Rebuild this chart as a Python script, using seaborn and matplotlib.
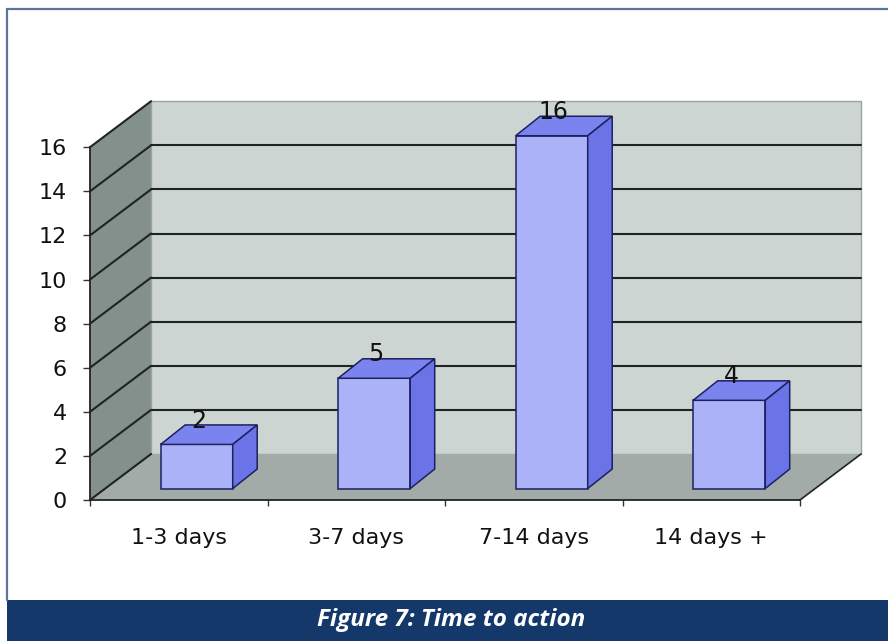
import numpy as np
import pandas as pd
import seaborn as sns
import matplotlib
matplotlib.use("Agg")
import matplotlib.pyplot as plt
from matplotlib.patches import Polygon, Rectangle
from matplotlib.lines import Line2D

# ---- data ----
categories = ["1-3 days", "3-7 days", "7-14 days", "14 days +"]
values = [2, 5, 16, 4]
y_ticks = [0, 2, 4, 6, 8, 10, 12, 14, 16]
caption = "Figure 7: Time to action"

# ---- style ----
sns.set_theme(style="white")
plt.rcParams['font.family'] = ['DejaVu Sans']

W, H = 888, 641
SIDE_WALL = '#84908b'
BACK_WALL = '#cdd5d3'
FLOOR = '#a2aba8'
FRONT = '#abb2f8'
TOPC = '#7a83ee'
SIDEC = '#6a74e6'
EDGE = '#1c2160'
GRID = '#1f2326'
BAND = '#14386a'
FRAME = '#5d7596'

# 3-D geometry in data units
DX, DY = 0.344, 2.086      # depth of walls
FX, FY = 0.101, 0.52       # bar front-face offset
BDX, BDY = 0.138, 0.884    # bar depth
BAR_W = 0.406

fig = plt.figure(figsize=(W / 100, H / 100), dpi=100, facecolor='white')
ax = fig.add_axes([90 / W, 141 / H, 710 / W, 352.8 / H])
ax.set_facecolor('none')

df = pd.DataFrame({"period": categories, "count": values})
sns.barplot(data=df, x="period", y="count", width=BAR_W, color=FRONT,
            saturation=1, edgecolor=EDGE, linewidth=1.1, ax=ax)

x_lo, x_hi = -0.5, len(categories) - 0.5
y_lo, y_hi = y_ticks[0], y_ticks[-1]

# walls and floor
ax.add_patch(Polygon([(x_lo, y_lo), (x_lo + DX, y_lo + DY), (x_lo + DX, y_hi + DY), (x_lo, y_hi)],
                     fc=SIDE_WALL, ec='none', zorder=0.5, clip_on=False))
ax.add_patch(Polygon([(x_lo + DX, y_lo + DY), (x_hi + DX, y_lo + DY), (x_hi + DX, y_hi + DY), (x_lo + DX, y_hi + DY)],
                     fc=BACK_WALL, ec='#9aa4a2', lw=1.0, zorder=0.5, clip_on=False))
ax.add_patch(Polygon([(x_lo, y_lo), (x_hi, y_lo), (x_hi + DX, y_lo + DY), (x_lo + DX, y_lo + DY)],
                     fc=FLOOR, ec='none', zorder=0.6, clip_on=False))
ax.add_line(Line2D([x_hi, x_hi + DX], [y_lo, y_lo + DY], color=GRID, lw=1.2, zorder=1, clip_on=False))

# gridlines: back wall and side wall
for k in y_ticks:
    ax.add_line(Line2D([x_lo, x_lo + DX], [k, k + DY], color=GRID, lw=1.5, zorder=1, clip_on=False))
    if y_lo < k < y_hi:
        ax.add_line(Line2D([x_lo + DX, x_hi + DX], [k + DY, k + DY], color=GRID, lw=1.5, zorder=1, clip_on=False))

# 3-D bars
bars = [p for p in ax.patches if isinstance(p, Rectangle)]
for p, v in zip(bars, values):
    p.set_x(p.get_x() + FX)
    p.set_y(FY)
    p.set_zorder(5)
    p.set_clip_on(False)
    x0, w, h = p.get_x(), p.get_width(), p.get_height()
    top = h + FY
    ax.add_patch(Polygon([(x0, top), (x0 + w, top), (x0 + w + BDX, top + BDY), (x0 + BDX, top + BDY)],
                         fc=TOPC, ec=EDGE, lw=1.1, zorder=5, clip_on=False))
    ax.add_patch(Polygon([(x0 + w, FY), (x0 + w + BDX, FY + BDY), (x0 + w + BDX, top + BDY), (x0 + w, top)],
                         fc=SIDEC, ec=EDGE, lw=1.1, zorder=5, clip_on=False))
    ax.text(x0 + w / 2 + 0.01, top + BDY - 0.12, f"{v:g}", ha='center', va='baseline',
            fontsize=17, color='#111111', zorder=6)

# axes
ax.set_xlim(x_lo, x_hi)
ax.set_ylim(y_lo, y_hi)
ax.set_yticks(y_ticks)
ax.set_xticks(range(len(categories)))
ax.set_xticklabels(categories)
ax.set_xticks(np.arange(x_lo, x_hi + 0.01, 1), minor=True)
ax.set_xlabel('')
ax.set_ylabel('')
for s in ['top', 'right']:
    ax.spines[s].set_visible(False)
for s in ['left', 'bottom']:
    ax.spines[s].set_color('#222222')
    ax.spines[s].set_linewidth(1.3)
    ax.spines[s].set_zorder(2)
ax.tick_params(axis='y', left=True, length=5, width=1, color='#333333', pad=11.5,
               labelsize=16, labelcolor='#111111', direction='out')
ax.tick_params(axis='x', which='major', bottom=True, length=0, pad=20,
               labelsize=16, labelcolor='#111111')
ax.tick_params(axis='x', which='minor', bottom=True, length=4.5, width=1, color='#333333',
               direction='out')

# frame and caption band
fig.add_artist(Line2D([7 / W, 7 / W], [(H - 600) / H, (H - 9) / H], transform=fig.transFigure,
                      color=FRAME, lw=1.6))
fig.add_artist(Line2D([7 / W, 1], [(H - 9) / H, (H - 9) / H], transform=fig.transFigure,
                      color=FRAME, lw=1.6))
fig.add_artist(Rectangle((7 / W, 0), 1 - 7 / W, 41 / H, transform=fig.transFigure,
                         facecolor=BAND, edgecolor='none'))
fig.text(451 / W, (H - 620) / H, caption, ha='center', va='center', color='white',
         fontsize=17.5, fontweight='bold', fontstyle='italic', family=['Open Sans', 'DejaVu Sans'])

fig.savefig('out.png', dpi=100, facecolor='white')
